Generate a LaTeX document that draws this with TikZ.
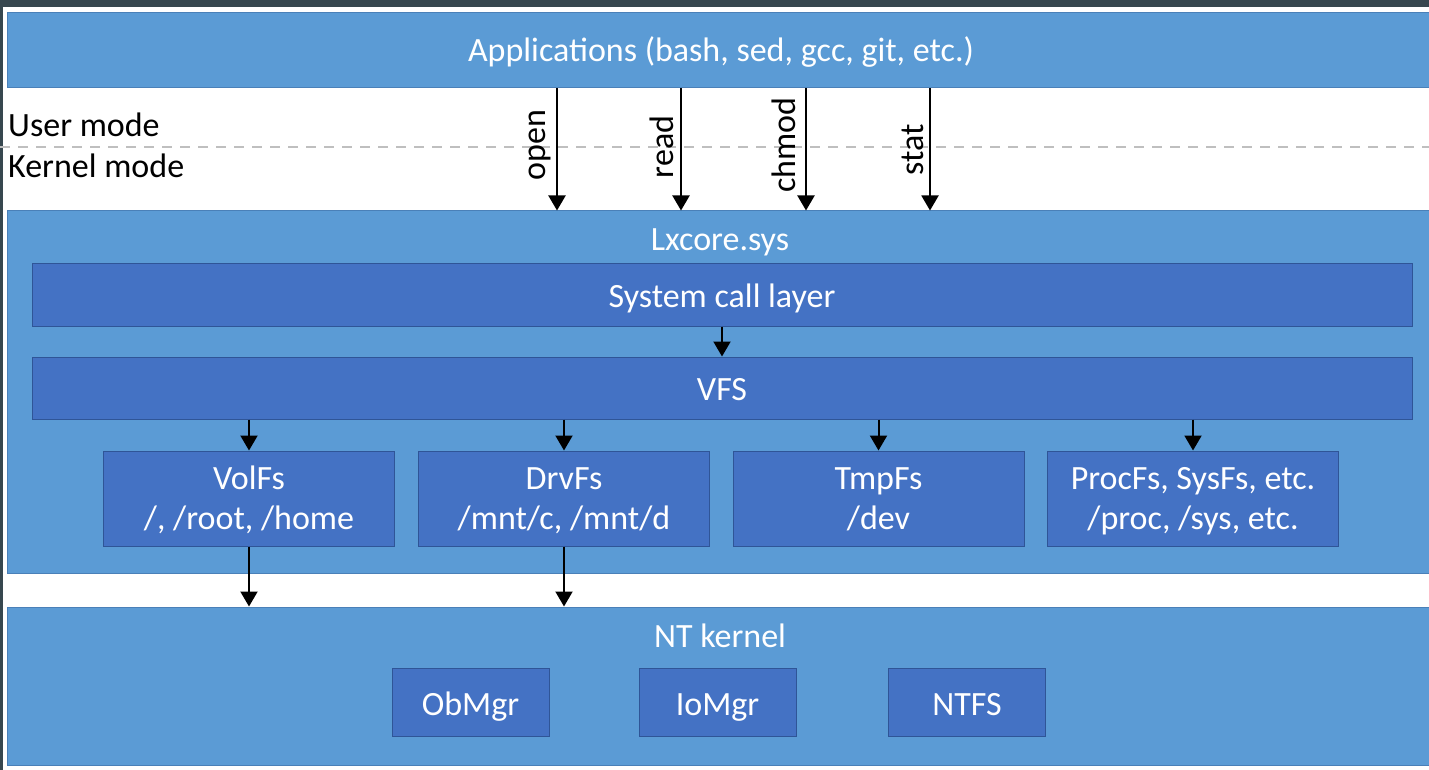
\documentclass[tikz,border=0pt]{standalone}
\usepackage{fontspec}
\setmainfont{Carlito}
\usetikzlibrary{arrows.meta}
\definecolor{outerblue}{HTML}{5B9BD5}
\definecolor{outerline}{HTML}{4A80B8}
\definecolor{innerblue}{HTML}{4472C4}
\definecolor{innerline}{HTML}{2F5597}
\definecolor{frame}{HTML}{37474F}
\definecolor{dashgray}{HTML}{BFBFBF}
\tikzset{
  outerbox/.style={draw=outerline, line width=1pt, fill=outerblue, inner sep=0pt},
  innerbox/.style={draw=innerline, line width=1pt, fill=innerblue, inner sep=0pt},
  wtext/.style={text=white, inner sep=0pt, anchor=base},
  ktext/.style={text=black, inner sep=0pt, anchor=base west},
  calltext/.style={text=black, inner sep=0pt, anchor=base, rotate=90},
  arr/.style={line width=2pt, -{Triangle[width=17pt,length=15pt]}},
}
\begin{document}
\begin{tikzpicture}[x=1pt,y=-1pt, font=\fontsize{34}{40}\selectfont]
\useasboundingbox (0,0) rectangle (1429,770);
\clip (0,0) rectangle (1429,770);
\fill[white] (0,0) rectangle (1429,770);
\fill[frame] (0,0) rectangle (1429,7);
\fill[frame] (0,0) rectangle (2.5,770);

% user space
\node[outerbox, minimum width=1429pt, minimum height=75pt] (apps) at (721.5,50.5) {};
\node[wtext] (appst) at (721,61.5) {Applications (bash, sed, gcc, git, etc.)};

\draw[dashgray, line width=2pt, dash pattern=on 10pt off 8pt] (0,147) coordinate (dl) -- (1429,147) coordinate (dr);
\node[ktext] (um) at (8,137) {User mode};
\node[ktext] (km) at (8,178) {Kernel mode};

% Lxcore.sys
\node[outerbox, minimum width=1429pt, minimum height=362pt] (lx) at (721.5,392) {};
\node[wtext] (lxt) at (720,251) {Lxcore.sys};
\node[innerbox, minimum width=1380pt, minimum height=63pt] (sc) at (722,294.5) {};
\node[wtext] (sct) at (722,307) {System call layer};
\node[innerbox, minimum width=1380pt, minimum height=62pt] (vfs) at (722,388) {};
\node[wtext] (vfst) at (722,400) {VFS};

\node[innerbox, minimum width=291pt, minimum height=95pt] (vol) at (249,498.5) {};
\node[innerbox, minimum width=291pt, minimum height=95pt] (drv) at (564,498.5) {};
\node[innerbox, minimum width=291pt, minimum height=95pt] (tmp) at (878.5,498.5) {};
\node[innerbox, minimum width=291pt, minimum height=95pt] (proc) at (1193,498.5) {};
\node[wtext] (vol1) at (249,489.5) {VolFs};
\node[wtext] (vol2) at (249,529) {/, /root, /home};
\node[wtext] (drv1) at (564,489.5) {DrvFs};
\node[wtext] (drv2) at (564,529) {/mnt/c, /mnt/d};
\node[wtext] (tmp1) at (878.5,489.5) {TmpFs};
\node[wtext] (tmp2) at (878.5,529) {/dev};
\node[wtext] (proc1) at (1193,489.5) {ProcFs, SysFs, etc.};
\node[wtext] (proc2) at (1193,529) {/proc, /sys, etc.};

% NT kernel
\node[outerbox, minimum width=1429pt, minimum height=158pt] (nt) at (721.5,686) {};
\node[wtext] (ntt) at (720,647) {NT kernel};
\node[innerbox, minimum width=157pt, minimum height=68pt] (ob) at (470.5,702) {};
\node[innerbox, minimum width=157pt, minimum height=68pt] (io) at (717.5,702) {};
\node[innerbox, minimum width=157pt, minimum height=68pt] (ntfs) at (967,702) {};
\node[wtext] (obt) at (470.5,715.5) {ObMgr};
\node[wtext] (iot) at (717.5,715.5) {IoMgr};
\node[wtext] (ntfst) at (967,715.5) {NTFS};

% system calls
\foreach \x in {557, 681, 806, 930} {
  \draw[arr] (\x,0 |- apps.south) -- (\x,0 |- lx.north);
}
\node[calltext] (copen) at (545,145) {open};
\node[calltext] (cread) at (673,147) {read};
\node[calltext] (cchmod) at (795,145) {chmod};
\node[calltext] (cstat) at (923,150) {stat};

% internal arrows
\draw[arr] (sc.south) -- (vfs.north);
\draw[arr] (vol.north |- vfs.south) -- (vol.north);
\draw[arr] (drv.north |- vfs.south) -- (drv.north);
\draw[arr] (tmp.north |- vfs.south) -- (tmp.north);
\draw[arr] (proc.north |- vfs.south) -- (proc.north);
\draw[arr] (vol.south) -- (vol.south |- nt.north);
\draw[arr] (drv.south) -- (drv.south |- nt.north);
\end{tikzpicture}
\end{document}
